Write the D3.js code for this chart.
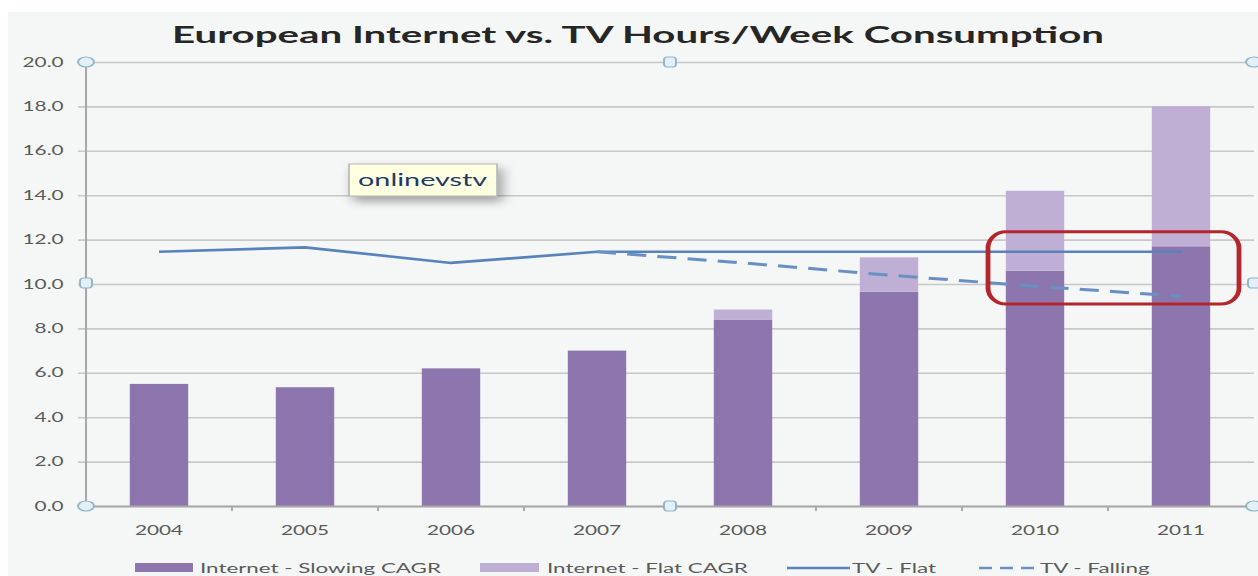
<!DOCTYPE html>
<html>
<head>
<meta charset="utf-8">
<script src="https://cdn.jsdelivr.net/npm/d3@7"></script>
<style>
  html, body { margin: 0; padding: 0; background: #ffffff; }
  svg { display: block; }
  text { font-family: Lato, "Open Sans", sans-serif; }
</style>
</head>
<body>
<script>
"use strict";

/* === Data (hours per week) === */
let years = ["2004", "2005", "2006", "2007", "2008", "2009", "2010", "2011"];
let internetSlowing = [5.5, 5.35, 6.2, 7.0, 8.4, 9.65, 10.6, 11.7];
let internetFlat = [5.5, 5.35, 6.2, 7.0, 8.85, 11.2, 14.2, 18.0];
let tvFlat = [11.45, 11.65, 10.95, 11.45, 11.45, 11.45, 11.45, 11.45];
let tvFalling = [null, null, null, 11.45, 10.95, 10.4, 9.9, 9.45];
let yTicks = [0, 2, 4, 6, 8, 10, 12, 14, 16, 18, 20];
let legendLabels = ["Internet - Slowing CAGR", "Internet - Flat CAGR", "TV - Flat", "TV - Falling"];

/* the screenshot is stretched sideways, so draw in narrow units and stretch the svg */
let S = 1.6;
let W = 1258, H = 576;
let px = v => v / S; // final pixel x -> user x

let plot = { left: 86, right: 1254, top: 62, bottom: 506 };

let colors = {
  dark: "#8d76ad",
  light: "#c0afd4",
  tv: "#5882ba",
  grid: "#c8c8c8",
  axis: "#a8a8a8",
  label: "#5a5a5a"
};

let svg = d3.select("body")
  .append("svg")
  .attr("width", W)
  .attr("height", H)
  .attr("viewBox", `0 0 ${px(W)} ${H}`)
  .attr("preserveAspectRatio", "none");

let defs = svg.append("defs");
let shadow = defs.append("filter").attr("id", "shadow")
  .attr("x", "-30%").attr("y", "-40%").attr("width", "160%").attr("height", "220%");
shadow.append("feDropShadow")
  .attr("dx", 3).attr("dy", 5).attr("stdDeviation", 4)
  .attr("flood-color", "#000").attr("flood-opacity", 0.35);

/* === Background === */
svg.append("rect")
  .attr("x", px(8)).attr("y", 12)
  .attr("width", px(W - 8)).attr("height", H - 12)
  .attr("fill", "#f5f7f6");

/* === Scales === */
let xScale = d3.scaleBand()
  .domain(years)
  .range([px(plot.left), px(plot.right)])
  .padding(0);

let yScale = d3.scaleLinear()
  .domain([0, 20])
  .range([plot.bottom, plot.top]);

let barW = xScale.bandwidth() * 0.4;
let cx = d => xScale(d) + xScale.bandwidth() / 2;

/* === Gridlines === */
svg.append("g")
  .attr("transform", `translate(${px(plot.left) - 5}, 0)`)
  .call(d3.axisRight(yScale).tickValues(yTicks).tickSize(px(plot.right - plot.left) + 5).tickFormat(""))
  .call(g => g.select(".domain").remove())
  .call(g => g.selectAll("line").attr("stroke", colors.grid).attr("stroke-width", 1.6));

/* === Y axis labels === */
svg.append("g")
  .attr("transform", `translate(${px(plot.left)}, 0)`)
  .call(d3.axisLeft(yScale).tickValues(yTicks).tickSize(0).tickPadding(14).tickFormat(d3.format(".1f")))
  .call(g => g.select(".domain").remove())
  .call(g => g.selectAll("text")
    .attr("fill", colors.label)
    .attr("font-size", "13px")
    .attr("font-family", "Lato, sans-serif"));

/* === Bars === */
svg.selectAll("rect.slowing")
  .data(years)
  .enter()
  .append("rect")
  .classed("slowing", true)
  .attr("x", d => cx(d) - barW / 2)
  .attr("y", (d, i) => yScale(internetSlowing[i]))
  .attr("width", barW)
  .attr("height", (d, i) => yScale(0) - yScale(internetSlowing[i]))
  .attr("fill", colors.dark);

svg.selectAll("rect.flat")
  .data(years)
  .enter()
  .append("rect")
  .classed("flat", true)
  .attr("x", d => cx(d) - barW / 2)
  .attr("y", (d, i) => yScale(internetFlat[i]))
  .attr("width", barW)
  .attr("height", (d, i) => yScale(internetSlowing[i]) - yScale(internetFlat[i]))
  .attr("fill", colors.light);

/* === Axis lines === */
svg.append("line")
  .attr("x1", px(plot.left)).attr("x2", px(plot.left))
  .attr("y1", plot.top).attr("y2", plot.bottom)
  .attr("stroke", colors.axis).attr("stroke-width", 1.3);

let xAxis = svg.append("g")
  .attr("transform", `translate(0, ${plot.bottom})`)
  .call(d3.axisBottom(xScale).tickSize(0).tickPadding(20))
  .call(g => g.select(".domain").attr("stroke", colors.axis).attr("stroke-width", 2))
  .call(g => g.selectAll("text")
    .attr("fill", colors.label)
    .attr("font-size", "13px")
    .attr("font-family", "Lato, sans-serif"));

// tick marks sit on the category boundaries
xAxis.selectAll("line.boundary")
  .data(years.slice(1))
  .enter()
  .append("line")
  .classed("boundary", true)
  .attr("x1", d => xScale(d)).attr("x2", d => xScale(d))
  .attr("y1", 0).attr("y2", 5)
  .attr("stroke", colors.axis).attr("stroke-width", 1.2);

/* === TV lines === */
let line = d3.line()
  .defined(d => d.v !== null)
  .x(d => cx(d.year))
  .y(d => yScale(d.v));

svg.append("path")
  .datum(years.map((year, i) => ({ year, v: tvFlat[i] })))
  .attr("d", line)
  .attr("fill", "none")
  .attr("stroke", colors.tv)
  .attr("stroke-width", 2.6);

svg.append("path")
  .datum(years.map((year, i) => ({ year, v: tvFalling[i] })))
  .attr("d", line)
  .attr("fill", "none")
  .attr("stroke", "#6890c4")
  .attr("stroke-width", 3)
  .attr("stroke-dasharray", "12,7");

/* === Red highlight box around 2010-2011 === */
svg.append("rect")
  .attr("x", cx("2010") - px(47))
  .attr("y", yScale(12.35))
  .attr("width", cx("2011") - cx("2010") + px(47 + 58))
  .attr("height", yScale(9.1) - yScale(12.35))
  .attr("rx", px(18)).attr("ry", 16)
  .attr("fill", "none")
  .attr("stroke", "#b3262c")
  .attr("stroke-width", 3);

/* === Selection handles (Excel chart frame) === */
let handleFill = "#e4f0f7", handleStroke = "#8fb3ca";
[[plot.left, plot.top], [plot.left, plot.bottom], [plot.right, plot.top], [plot.right, plot.bottom]].forEach(p => {
  svg.append("ellipse")
    .attr("cx", px(p[0])).attr("cy", p[1])
    .attr("rx", px(8)).attr("ry", 5)
    .attr("fill", handleFill).attr("stroke", handleStroke).attr("stroke-width", 1.2);
});
[[plot.left, 283], [670, plot.top], [670, plot.bottom], [plot.right, 283]].forEach(p => {
  svg.append("rect")
    .attr("x", px(p[0] - 6)).attr("y", p[1] - 5)
    .attr("width", px(12)).attr("height", 10)
    .attr("rx", px(3)).attr("ry", 3)
    .attr("fill", handleFill).attr("stroke", handleStroke).attr("stroke-width", 1.2);
});

/* === Title === */
svg.append("text")
  .attr("x", px(638))
  .attr("y", 43)
  .attr("text-anchor", "middle")
  .attr("font-size", "23px")
  .attr("font-weight", "bold")
  .attr("fill", "#262626")
  .attr("textLength", px(932))
  .attr("lengthAdjust", "spacingAndGlyphs")
  .text("European Internet vs. TV Hours/Week Consumption");

/* === Tooltip box === */
let tip = svg.append("g");
tip.append("rect")
  .attr("x", px(349)).attr("y", 164)
  .attr("width", px(148)).attr("height", 32)
  .attr("fill", "#ffffe1")
  .attr("stroke", "#b5b5b5")
  .attr("stroke-width", 1)
  .attr("filter", "url(#shadow)");
tip.append("text")
  .attr("x", px(358)).attr("y", 186)
  .attr("font-size", "18px")
  .attr("fill", "#1f3a66")
  .text("onlinevstv");

/* === Legend === */
let legend = svg.append("g");
let legendY = 568;

legend.append("rect")
  .attr("x", px(135)).attr("y", legendY - 5)
  .attr("width", px(58)).attr("height", 9)
  .attr("fill", colors.dark);
legend.append("rect")
  .attr("x", px(480)).attr("y", legendY - 5)
  .attr("width", px(59)).attr("height", 9)
  .attr("fill", colors.light);
legend.append("line")
  .attr("x1", px(787)).attr("x2", px(850))
  .attr("y1", legendY).attr("y2", legendY)
  .attr("stroke", colors.tv).attr("stroke-width", 2.6);
legend.append("line")
  .attr("x1", px(979)).attr("x2", px(1038))
  .attr("y1", legendY).attr("y2", legendY)
  .attr("stroke", "#6890c4").attr("stroke-width", 2.6)
  .attr("stroke-dasharray", `${px(13)},${px(8)}`);

[200, 547, 852, 1040].forEach((x, i) => {
  legend.append("text")
    .attr("x", px(x))
    .attr("y", legendY + 5)
    .attr("font-size", "14px")
    .attr("fill", colors.label)
    .text(legendLabels[i]);
});
</script>
</body>
</html>
